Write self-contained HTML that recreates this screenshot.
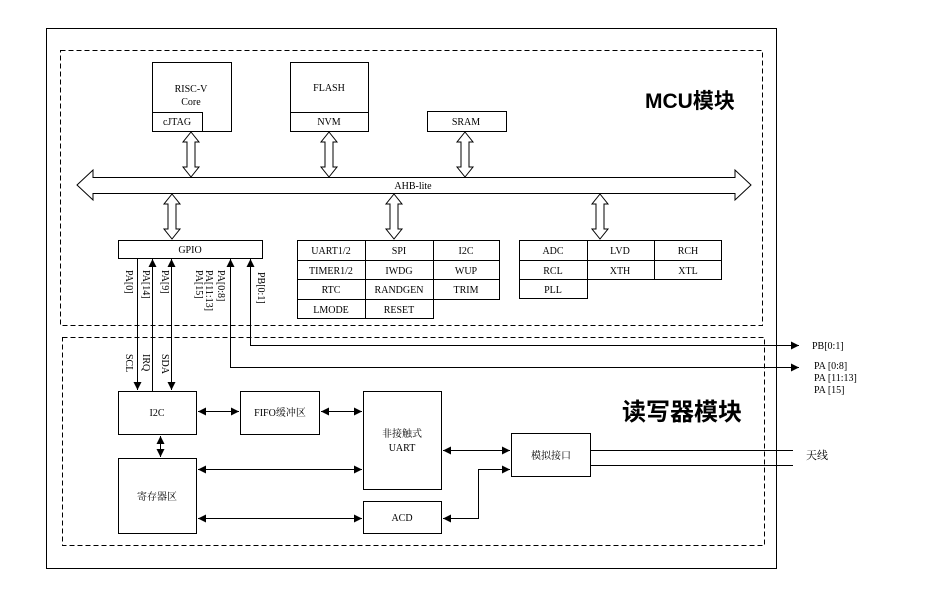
<!DOCTYPE html>
<html><head><meta charset="utf-8"><style>
html,body{margin:0;padding:0;background:#fff}
svg{display:block}
text{font-family:"Liberation Serif","Noto Serif CJK SC",serif;font-size:10px;fill:#000}
.c{text-anchor:middle}
</style></head><body>
<svg width="946" height="590" viewBox="0 0 946 590" xmlns="http://www.w3.org/2000/svg">
<defs>
<marker id="a" viewBox="0 0 10 10" refX="10" refY="5" markerWidth="8" markerHeight="8" markerUnits="userSpaceOnUse" orient="auto-start-reverse"><path d="M0,0 L10,5 L0,10 z" fill="#000"/></marker>
</defs>
<g fill="none" stroke="#000" stroke-width="1">
<rect x="46.5" y="28.5" width="730" height="540"/>
<rect x="60.5" y="50.5" width="702" height="275" stroke-dasharray="5,3"/>
<rect x="62.5" y="337.5" width="702" height="208" stroke-dasharray="5,3"/>
<rect x="152.5" y="62.5" width="79" height="69"/>
<rect x="152.5" y="112.5" width="50" height="19"/>
<rect x="290.5" y="62.5" width="78" height="69"/>
<line x1="290" y1="112.5" x2="368" y2="112.5"/>
<rect x="427.5" y="111.5" width="79" height="20"/>
<path d="M77,185 L93,170 L93,177.5 L735,177.5 L735,170 L751,185 L735,200 L735,193.5 L93,193.5 L93,200 Z" fill="#fff"/>
<path d="M191,132 L199,142 L195,142 L195,167 L199,167 L191,177 L183,167 L187,167 L187,142 L183,142 Z"/>
<path d="M329,132 L337,142 L333,142 L333,167 L337,167 L329,177 L321,167 L325,167 L325,142 L321,142 Z"/>
<path d="M465,132 L473,142 L469,142 L469,167 L473,167 L465,177 L457,167 L461,167 L461,142 L457,142 Z"/>
<path d="M172,194 L180,204 L176,204 L176,229 L180,229 L172,239 L164,229 L168,229 L168,204 L164,204 Z"/>
<path d="M394,194 L402,204 L398,204 L398,229 L402,229 L394,239 L386,229 L390,229 L390,204 L386,204 Z"/>
<path d="M600,194 L608,204 L604,204 L604,229 L608,229 L600,239 L592,229 L596,229 L596,204 L592,204 Z"/>
<rect x="118.5" y="240.5" width="144" height="18"/>
<rect x="297.5" y="240.5" width="202" height="59"/>
<rect x="297.5" y="299.5" width="136" height="19"/>
<line x1="365.5" y1="240" x2="365.5" y2="318"/>
<line x1="433.5" y1="240" x2="433.5" y2="299"/>
<line x1="297" y1="260.5" x2="499" y2="260.5"/>
<line x1="297" y1="279.5" x2="499" y2="279.5"/>
<rect x="519.5" y="240.5" width="202" height="39"/>
<rect x="519.5" y="279.5" width="68" height="19"/>
<line x1="587.5" y1="240" x2="587.5" y2="279"/>
<line x1="654.5" y1="240" x2="654.5" y2="279"/>
<line x1="519" y1="260.5" x2="721" y2="260.5"/>
<line x1="137.5" y1="259" x2="137.5" y2="390" marker-end="url(#a)"/>
<line x1="152.5" y1="391" x2="152.5" y2="259" marker-end="url(#a)"/>
<line x1="171.5" y1="259" x2="171.5" y2="390" marker-start="url(#a)" marker-end="url(#a)"/>
<polyline points="799,367.5 230.5,367.5 230.5,259" marker-start="url(#a)" marker-end="url(#a)" />
<polyline points="799,345.5 250.5,345.5 250.5,259" marker-start="url(#a)" marker-end="url(#a)"/>
<rect x="118.5" y="391.5" width="78" height="43"/>
<rect x="240.5" y="391.5" width="79" height="43"/>
<rect x="363.5" y="391.5" width="78" height="98"/>
<rect x="118.5" y="458.5" width="78" height="75"/>
<rect x="363.5" y="501.5" width="78" height="32"/>
<rect x="511.5" y="433.5" width="79" height="43"/>
<line x1="198" y1="411.5" x2="239" y2="411.5" marker-start="url(#a)" marker-end="url(#a)"/>
<line x1="321" y1="411.5" x2="362" y2="411.5" marker-start="url(#a)" marker-end="url(#a)"/>
<line x1="160.5" y1="436" x2="160.5" y2="457" marker-start="url(#a)" marker-end="url(#a)"/>
<line x1="198" y1="469.5" x2="362" y2="469.5" marker-start="url(#a)" marker-end="url(#a)"/>
<line x1="198" y1="518.5" x2="362" y2="518.5" marker-start="url(#a)" marker-end="url(#a)"/>
<line x1="443" y1="450.5" x2="510" y2="450.5" marker-start="url(#a)" marker-end="url(#a)"/>
<polyline points="443,518.5 478.5,518.5 478.5,469.5 510,469.5" marker-start="url(#a)" marker-end="url(#a)"/>
<line x1="591" y1="450.5" x2="793" y2="450.5"/>
<line x1="591" y1="465.5" x2="793" y2="465.5"/>
</g>
<text class="c" x="191" y="92">RISC-V</text>
<text class="c" x="191" y="105">Core</text>
<text class="c" x="177" y="125">cJTAG</text>
<text class="c" x="329" y="91">FLASH</text>
<text class="c" x="329" y="125">NVM</text>
<text class="c" x="466" y="125">SRAM</text>
<text class="c" x="413" y="189">AHB-lite</text>
<text x="645" y="108" style="font-family:'Liberation Sans','Noto Sans CJK SC',sans-serif;font-size:21px;font-weight:bold">MCU模块</text>
<text x="622" y="420" style="font-family:'Liberation Sans','Noto Sans CJK SC',sans-serif;font-size:24px;font-weight:bold">读写器模块</text>
<text class="c" x="190" y="253">GPIO</text>
<text class="c" x="331" y="254">UART1/2</text><text class="c" x="399" y="254">SPI</text><text class="c" x="466" y="254">I2C</text>
<text class="c" x="331" y="274">TIMER1/2</text><text class="c" x="399" y="274">IWDG</text><text class="c" x="466" y="274">WUP</text>
<text class="c" x="331" y="293">RTC</text><text class="c" x="399" y="293">RANDGEN</text><text class="c" x="466" y="293">TRIM</text>
<text class="c" x="331" y="313">LMODE</text><text class="c" x="399" y="313">RESET</text>
<text class="c" x="553" y="254">ADC</text><text class="c" x="620" y="254">LVD</text><text class="c" x="688" y="254">RCH</text>
<text class="c" x="553" y="274">RCL</text><text class="c" x="620" y="274">XTH</text><text class="c" x="688" y="274">XTL</text>
<text class="c" x="553" y="293">PLL</text>
<g style="font-size:9px">
<text transform="translate(126,270) rotate(90)">PA[0]</text>
<text transform="translate(143,270) rotate(90)">PA[14]</text>
<text transform="translate(162,270) rotate(90)">PA[9]</text>
<text transform="translate(196,270) rotate(90)">PA[15]</text>
<text transform="translate(206,270) rotate(90)">PA[11:13]</text>
<text transform="translate(218,270) rotate(90)">PA[0:8]</text>
<text transform="translate(258,272) rotate(90)">PB[0:1]</text>
<text transform="translate(126,354) rotate(90)">SCL</text>
<text transform="translate(143,354) rotate(90)">IRQ</text>
<text transform="translate(162,354) rotate(90)">SDA</text>
<text x="812" y="349">PB[0:1]</text>
<text x="814" y="369">PA [0:8]</text>
<text x="814" y="381">PA [11:13]</text>
<text x="814" y="393">PA [15]</text>
</g>
<text class="c" x="157" y="416">I2C</text>
<text class="c" x="280" y="416">FIFO缓冲区</text>
<text class="c" x="402" y="437">非接触式</text>
<text class="c" x="402" y="451">UART</text>
<text class="c" x="157" y="500">寄存器区</text>
<text class="c" x="402" y="521">ACD</text>
<text class="c" x="551" y="459">模拟接口</text>
<text x="806" y="459" style="font-size:11px">天线</text>
</svg>
</body></html>
